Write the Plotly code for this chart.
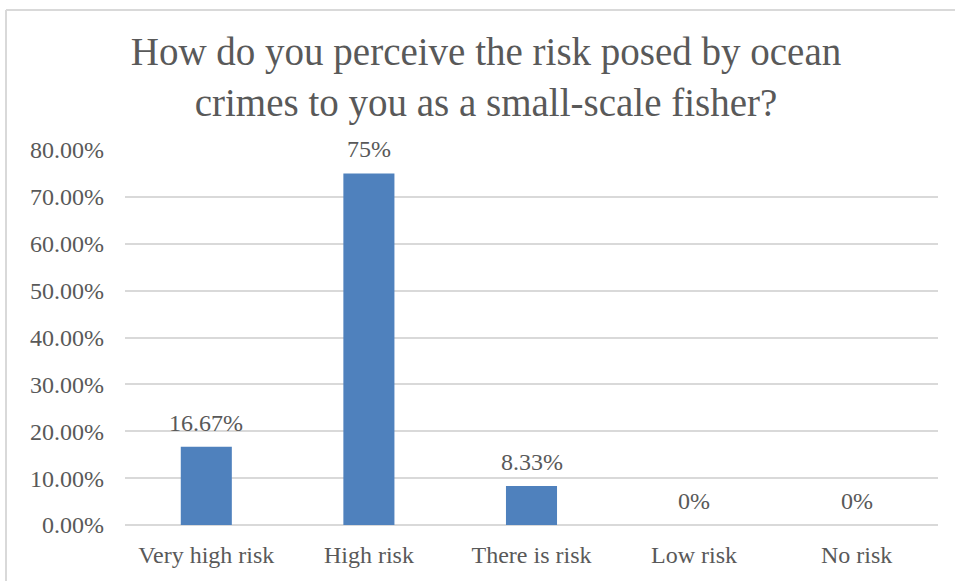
import plotly.graph_objects as go

categories = ["Very high risk", "High risk", "There is risk", "Low risk", "No risk"]
values = [16.67, 75, 8.33, 0, 0]
y_ticks = [0, 10, 20, 30, 40, 50, 60, 70, 80]

title_text = "How do you perceive the risk posed by ocean<br>crimes to you as a small-scale fisher?"

W, H = 955, 581
L, R, T, B = 125, 17, 150, 56
pw, ph = W - L - R, H - T - B

def px_x(x):
    return (x - L) / pw

def px_y(y):
    return (H - B - y) / ph

FONT = "Liberation Serif"
GREY = "#595959"

fig = go.Figure(
    go.Bar(
        x=categories,
        y=values,
        marker=dict(color="#4f81bd", line=dict(width=0)),
        cliponaxis=False,
    )
)

annotations = [
    dict(x=c, y=v, xref="x", yref="y", text=f"{v:g}%", showarrow=False,
         yanchor="bottom", yshift=9,
         font=dict(family=FONT, size=24, color=GREY))
    for c, v in zip(categories, values)
]

fig.update_layout(
    width=W,
    height=H,
    margin=dict(l=L, r=R, t=T, b=B, autoexpand=False),
    paper_bgcolor="white",
    plot_bgcolor="white",
    bargap=0.686,
    showlegend=False,
    annotations=annotations,
    title=dict(
        text=title_text,
        x=486 / W,
        xanchor="center",
        y=1 - 65 / H,
        yanchor="top",
        font=dict(family=FONT, size=39, color=GREY),
    ),
    xaxis=dict(
        showgrid=False,
        showline=False,
        tickfont=dict(family=FONT, size=24, color=GREY),
        ticklabelstandoff=13,
    ),
    yaxis=dict(
        range=[0, 80],
        tickvals=y_ticks,
        ticktext=[f"{v:.2f}%" for v in y_ticks],
        tickfont=dict(family=FONT, size=24, color=GREY),
        gridcolor="#d9d9d9",
        gridwidth=1.5,
        zeroline=True,
        zerolinecolor="#d9d9d9",
        zerolinewidth=1.5,
        showline=False,
        ticklabelstandoff=20,
    ),
    shapes=[
        dict(type="line", xref="paper", yref="paper",
             x0=px_x(6), x1=px_x(6), y0=px_y(10), y1=px_y(H + 5),
             line=dict(color="#d9d9d9", width=2)),
        dict(type="line", xref="paper", yref="paper",
             x0=px_x(6), x1=px_x(W + 5), y0=px_y(10), y1=px_y(10),
             line=dict(color="#d9d9d9", width=2)),
    ],
)

fig.write_html("out.html")
